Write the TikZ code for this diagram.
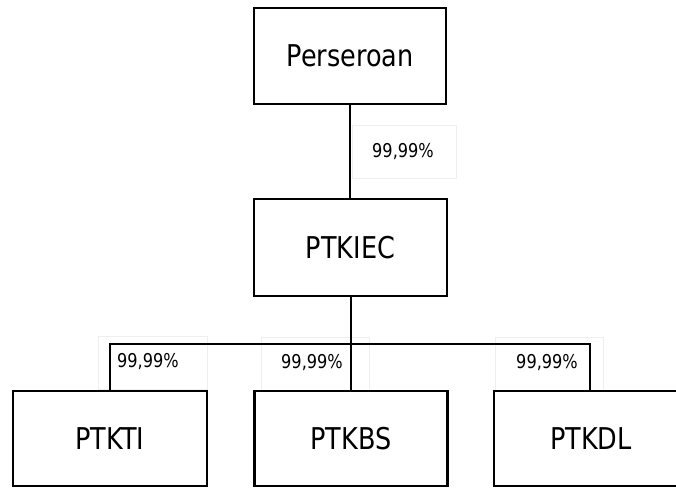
\documentclass[tikz,border=0pt]{standalone}
\usepackage{fontspec}
\setmainfont{DejaVu Sans}[FakeStretch=0.85]
\definecolor{faint}{HTML}{EEEEEE}
\begin{document}
\begin{tikzpicture}[x=1pt,y=-1pt,
  orgbox/.style={draw=black, line width=2.4pt, minimum width=193pt, minimum height=96pt, inner sep=0pt, font=\fontsize{30}{35}\selectfont},
  lblbox/.style={draw=faint, line width=0.6pt, minimum height=53pt, inner sep=0pt},
  lbltxt/.style={inner sep=0pt, font=\fontsize{19}{22}\selectfont},
  conn/.style={line width=2pt}]
\useasboundingbox (0,0) rectangle (676,487);
\clip (0,0) rectangle (676,487);
% faint label boxes
\node[lblbox, minimum width=104pt] (lb1) at (404,151.5) {};
\node[lblbox, minimum width=109pt] (lb2) at (152.5,362.5) {};
\node[lblbox, minimum width=108pt] (lb3) at (315,364) {};
\node[lblbox, minimum width=108pt] (lb4) at (549,364) {};
% boxes
\node[orgbox, minimum width=192pt] (per) at (350,56) {Perseroan};
\node[orgbox, minimum height=97pt] (iec) at (350.5,247.5) {PTKIEC};
\node[orgbox, minimum width=194pt, minimum height=95pt] (kti) at (110,438.5) {PTKTI};
\node[orgbox, minimum height=95pt] (kbs) at (351,438.5) {PTKBS};
\node[orgbox, minimum width=194pt, minimum height=95pt] (kdl) at (591,438.5) {PTKDL};
% label texts
\node[lbltxt] (t1) at (403,152) {99,99\%};
\node[lbltxt, anchor=west] (t2) at (117,362) {99,99\%};
\node[lbltxt, anchor=east] (t3) at (343,363) {99,99\%};
\node[lbltxt, anchor=east] (t4) at (578,363) {99,99\%};
% connectors
\coordinate (hub) at (350.5,344);
\draw[conn] (per.south) -- (per.south |- iec.north);
\draw[conn] (iec.south) -- (hub) -- (hub |- kbs.north);
\draw[conn] (kti.north) |- (hub) -| ([xshift=-1pt]kdl.north);
\end{tikzpicture}
\end{document}
